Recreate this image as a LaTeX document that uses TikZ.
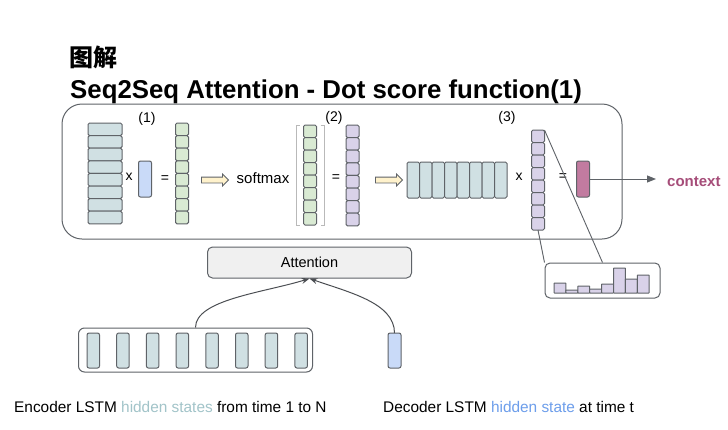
\documentclass[tikz,border=0pt]{standalone}
\usepackage{fontspec}
\setmainfont{Liberation Sans}
\newfontfamily\cjkfont{Noto Sans CJK SC}
\usepackage{tikz}
\usetikzlibrary{positioning}
\usetikzlibrary{arrows.meta}
\usetikzlibrary{shapes.arrows}
\definecolor{encfill}{HTML}{D0E0E3}
\definecolor{decfill}{HTML}{C9DAF8}
\definecolor{scorefill}{HTML}{D9EAD3}
\definecolor{probfill}{HTML}{D9D2E9}
\definecolor{ctxfill}{HTML}{C27BA0}
\definecolor{ctxtext}{HTML}{A64D79}
\definecolor{linegray}{HTML}{5F6368}
\definecolor{arrowfill}{HTML}{FFF2CC}
\definecolor{enctext}{HTML}{A2C4C9}
\definecolor{dectext}{HTML}{6D9EEB}

\begin{document}
\begin{tikzpicture}[x=1pt,y=-1pt,
		cell/.style={draw=linegray,line width=1pt,rounded corners=1.5pt},
		holder/.style={inner sep=0pt,outer sep=0pt,minimum width=13pt},
		frame/.style={draw=linegray,line width=1pt},
		lbl/.style={inner sep=0pt,font=\fontsize{14}{16}\selectfont},
		yarrow/.style={single arrow,draw=linegray,fill=arrowfill,line width=0.8pt,inner sep=2.5pt,single arrow head extend=3pt,minimum height=27pt},
		conn/.style={draw=linegray!80!black,line width=1pt,-{Stealth[length=8pt,width=6pt]}}]
		\useasboundingbox (0,0) rectangle (728,429);
		\fill[white] (0,0) rectangle (728,429);
		% title
		\node [anchor=base west,inner sep=0pt,font=\cjkfont\bfseries\fontsize{24}{28}\selectfont] (0Head) at (69,66) {图解};
		\node [anchor=base west,inner sep=0pt,font=\bfseries\fontsize{25.8}{30}\selectfont] (0Title) at (70,98) {Seq2Seq Attention - Dot score function(1)};
		\draw [frame,rounded corners=20pt] (62,104) rectangle (622,239);
		
		% (1) scores
		\node [lbl] (1Lbl) at (147,119) {(1)};
		\foreach \i in {0,...,7}
			\draw [cell,fill=encfill] (88,123+12.6*\i) rectangle ++(34,12.6);
		\node [lbl] (1Times) at (129,177) {x};
		\node [holder,minimum height=36pt,draw=linegray,line width=1pt,fill=decfill,rounded corners=2pt] (1Dec) at (145,179) {};
		\node [lbl] (1Eq) at (165,179) {=};
		\foreach \i in {0,...,7}
			\draw [cell,fill=scorefill] (175.5,123+12.6*\i) rectangle ++(13,12.6);
		\node [yarrow] (1Arr) at (213.5,180) {};
		\node [lbl,font=\fontsize{15}{18}\selectfont,anchor=base] (1Soft) at (263,183) {softmax};
		
		% (2) softmax
		\draw [gray!55,line width=0.8pt] (299.5,125) -- (296,125) -- (296,225) -- (299.5,225);
		\draw [gray!55,line width=0.8pt] (320.5,125) -- (324,125) -- (324,225) -- (320.5,225);
		\foreach \i in {0,...,7}
			\draw [cell,fill=scorefill] (303.5,125+12.5*\i) rectangle ++(13,12.5);
		\node [lbl] (2Lbl) at (334,118) {(2)};
		\node [lbl] (2Eq) at (336,178) {=};
		\foreach \i in {0,...,7}
			\draw [cell,fill=probfill] (346,125+12.6*\i) rectangle ++(13,12.6);
		\node [yarrow] (2Arr) at (387.5,180) {};
		
		% (3) weighted sum
		\foreach \i in {0,...,7}
			\draw [cell,fill=encfill] (407+12.5*\i,162) rectangle ++(12.5,36);
		\node [lbl] (3Lbl) at (507,118) {(3)};
		\node [lbl] (3Times) at (519,177) {x};
		\foreach \i in {0,...,7}
			\draw [cell,fill=probfill] (531.5,130+12.5*\i) rectangle ++(13,12.5);
		\node [holder,minimum height=100pt] (3Prob) at (538,180) {};
		\node [lbl] (3Eq) at (563,177) {=};
		\node [holder,minimum height=36pt,draw=linegray,line width=1pt,fill=ctxfill,rounded corners=2pt] (3Ctx) at (583,179) {};
		\node [anchor=base west,inner sep=0pt,text=ctxtext,font=\bfseries\fontsize{15}{18}\selectfont] (3Context) at (667,186) {context};
		\draw [linegray,line width=1pt,-{Triangle[length=9pt,width=7pt]},shorten >=11pt] (3Ctx.east) -- (3Ctx.east -| 3Context.west);
		
		% attention weights
		\node [frame,rounded corners=5pt,minimum width=115pt,minimum height=35pt,inner sep=0pt] (3Hist) at (602.5,280.5) {};
		\foreach \i/\t in {0/283,1/290,2/286,3/289,4/284,5/268,6/279,7/275}
			\draw [cell,rounded corners=0.5pt,fill=probfill] (554+11.9*\i,\t) rectangle (565.9+11.9*\i,293);
		\draw [linegray,line width=0.9pt] (3Prob.south) -- (3Hist.north west);
		\draw [linegray,line width=0.9pt] (3Prob.north east) -- (3Hist.north);
		
		% attention and LSTM states
		\node [frame,rounded corners=5pt,fill=gray!12,minimum width=204pt,minimum height=31pt,font=\fontsize{14.5}{17}\selectfont] (Att) at (309.5,262.5) {Attention};
		\node [frame,rounded corners=6pt,minimum width=234pt,minimum height=44pt,inner sep=0pt] (4Enc) at (195.5,350) {};
		\foreach \i in {0,...,7}
			\draw [cell,fill=encfill,rounded corners=2pt] (87+29.7*\i,333) rectangle ++(12.5,35);
		\node [holder,minimum height=35pt,draw=linegray,line width=1pt,fill=decfill,rounded corners=2pt] (4Dec) at (394.5,350.5) {};
		\draw [conn] (4Enc.north) .. controls +(0,-28) and +(-45,14) .. (Att.south);
		\draw [conn] (4Dec.north) .. controls +(0,-30) and +(40,14) .. (Att.south);
		
		\node [anchor=base west,inner sep=0pt,font=\fontsize{15.4}{18}\selectfont] (4EncText) at (14,412) {Encoder LSTM \textcolor{enctext}{hidden states} from time 1 to N};
		\node [anchor=base west,inner sep=0pt,font=\fontsize{15.4}{18}\selectfont] (4DecText) at (383,412) {Decoder LSTM \textcolor{dectext}{hidden state} at time t};
		
		\end{tikzpicture}
\end{document}
